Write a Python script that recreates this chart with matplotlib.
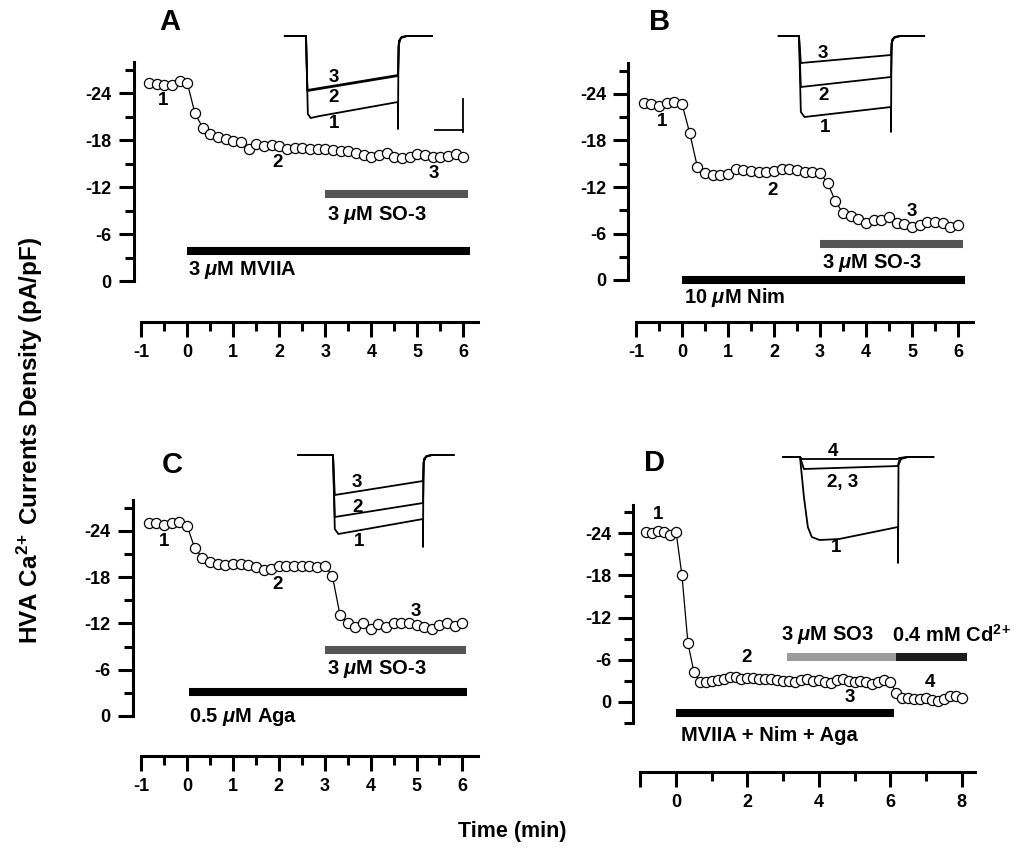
import numpy as np
import matplotlib
matplotlib.use("Agg")
import matplotlib.pyplot as plt

plt.rcParams['font.family'] = ['Liberation Sans', 'DejaVu Sans']
plt.rcParams['font.weight'] = 'bold'
plt.rcParams['axes.unicode_minus'] = False
plt.rcParams['mathtext.fontset'] = 'custom'
plt.rcParams['mathtext.rm'] = 'Liberation Sans:bold'
plt.rcParams['mathtext.it'] = 'Liberation Sans:italic:bold'
plt.rcParams['mathtext.bf'] = 'Liberation Sans:bold'

W, H = 1024, 864

# sample times (min), one sweep every 10 s
t_ab = np.arange(-5, 37) / 6
t_d = np.arange(-5, 49) / 6

# current density (pA/pF)
cur_a = [-25.3, -25.2, -25.0, -25.0, -25.6, -25.3,
         -21.4, -19.6, -18.8, -18.4, -18.1, -17.9, -17.7, -16.9, -17.5, -17.3,
         -17.4, -17.2, -16.9, -17.0, -17.0, -16.9, -16.9, -16.8, -16.7, -16.6,
         -16.6, -16.3, -16.1, -15.9, -16.1, -16.3, -15.9, -15.7, -15.8, -16.2,
         -16.1, -15.8, -15.9, -16.0, -16.2, -15.8]
cur_b = [-22.8, -22.7, -22.5, -22.9, -23.0, -22.7,
         -19.0, -14.6, -13.8, -13.5, -13.6, -13.7, -14.3, -14.2, -14.1, -14.0,
         -14.0, -14.1, -14.3, -14.3, -14.2, -14.0, -13.9, -13.8, -12.5, -10.2,
         -8.6, -8.2, -7.9, -7.3, -7.7, -7.8, -8.1, -7.3, -7.2, -6.9,
         -7.1, -7.5, -7.5, -7.3, -6.8, -7.1]
cur_c = [-25.0, -25.0, -24.8, -25.0, -25.1, -24.7,
         -21.8, -20.5, -20.0, -19.7, -19.6, -19.7, -19.7, -19.6, -19.3, -19.0,
         -19.1, -19.4, -19.4, -19.5, -19.5, -19.4, -19.3, -19.5, -18.2, -13.1,
         -12.1, -11.6, -12.0, -11.3, -11.9, -11.6, -12.1, -12.1, -12.1, -11.8,
         -11.5, -11.3, -11.8, -12.1, -11.7, -12.0]
cur_d = [-24.2, -24.0, -24.3, -24.1, -23.7, -24.2,
         -18.0, -8.4, -4.3, -2.9, -2.8, -3.0, -3.1, -3.3, -3.5, -3.6,
         -3.3, -3.4, -3.4, -3.3, -3.3, -3.2, -3.1, -3.0, -3.0, -2.9,
         -3.1, -3.2, -3.0, -3.1, -2.8, -2.7, -3.1, -3.3, -3.0, -2.8,
         -3.0, -2.9, -2.6, -2.9, -3.1, -2.8, -1.3, -0.6, -0.5, -0.4,
         -0.4, -0.5, -0.3, -0.1, -0.4, -0.9, -0.8, -0.6]

# drug application bars: (start, end, level, colour)
bars_a = [(3.0, 6.1, -11.1, '#555555'), (0.0, 6.15, -3.8, 'black')]
bars_b = [(3.0, 6.1, -4.6, '#555555'), (0.0, 6.15, 0.0, 'black')]
bars_c = [(3.0, 6.07, -8.6, '#555555'), (0.05, 6.1, -3.1, 'black')]
bars_d = [(3.1, 6.15, -6.4, '#9c9c9c'), (6.15, 8.15, -6.4, '#1c1c1c'),
          (0.0, 6.1, 1.6, 'black')]

# inset current traces: (ms, arbitrary units), one list per sweep
tr_a = {
    '1': ([-23, 0, 2, 5, 15, 100, 100, 100.5, 103, 110, 137],
          [0, 0, -78, -82, -80, -66, -93, -10, -2, 0, 0]),
    '2': ([-23, 0, 1.5, 100, 101, 104, 110, 137],
          [0, 0, -55, -40, -5, -1, 0, 0]),
    '3': ([-23, 0, 1.5, 100, 101, 104, 110, 137],
          [0, 0, -54, -39, -5, -1, 0, 0]),
}
tr_b = {
    '1': ([-22, 0, 2, 6, 100, 100, 100.5, 103, 110, 136],
          [0, 0, -76, -81, -71, -96, -8, -2, 0, 0]),
    '2': ([-22, 0, 2, 100, 101, 104, 110, 136],
          [0, 0, -51, -41, -5, -1, 0, 0]),
    '3': ([-22, 0, 2, 100, 101, 104, 110, 136],
          [0, 0, -27, -19, -4, -1, 0, 0]),
}
tr_c = {
    '1': ([-39, 0, 2, 6, 100, 100, 100.5, 103, 110, 134],
          [0, 0, -74, -79, -64, -92, -8, -2, 0, 0]),
    '2': ([-39, 0, 2, 100, 101, 104, 110, 134],
          [0, 0, -62, -48, -5, -1, 0, 0]),
    '3': ([-39, 0, 2, 100, 101, 104, 110, 134],
          [0, 0, -40, -26, -4, -1, 0, 0]),
}
tr_d = {
    '1': ([-17, 0, 4, 8, 12, 20, 40, 100, 100, 100.5, 103, 110, 136],
          [0, 0, -40, -70, -80, -83, -82, -70, -106, -8, -2, 0, 0]),
    '2, 3': ([-17, 0, 4, 100, 101, 104, 110, 136],
             [0, 0, -12, -9, -4, -1, 0, 0]),
    '4': ([-17, 0, 2, 100, 101, 110, 136],
          [0, 0, -2, -2, -1, 0, 0]),
}

fig = plt.figure(figsize=(W / 100, H / 100), dpi=100)


def px_axes(left, right, top, bottom):
    return fig.add_axes([left / W, 1 - bottom / H, (right - left) / W, (bottom - top) / H])


def make_panel(x0, sx, y0, sy, tlim, vlim, ybounds, xbounds, xticks, xminor, yminor):
    ax = px_axes(x0 + sx * tlim[0], x0 + sx * tlim[1], y0 + sy * vlim[0], y0 + sy * vlim[1])
    ax.set_xlim(tlim)
    ax.set_ylim(vlim[1], vlim[0])
    ax.patch.set_visible(False)
    for s in ['top', 'right']:
        ax.spines[s].set_visible(False)
    for s in ['left', 'bottom']:
        ax.spines[s].set_linewidth(2.2)
    ax.spines['left'].set_bounds(*ybounds)
    ax.spines['bottom'].set_bounds(*xbounds)
    ax.set_yticks([-24, -18, -12, -6, 0])
    ax.set_yticks(yminor, minor=True)
    ax.set_xticks(xticks)
    ax.set_xticks(xminor, minor=True)
    ax.tick_params(which='major', length=11, width=2.2, labelsize=13, pad=5)
    ax.tick_params(which='minor', length=6.5, width=2.2)
    for lab in ax.get_xticklabels() + ax.get_yticklabels():
        lab.set_fontweight('bold')
    return ax


def draw_series(ax, t, cur, bars):
    for t0, t1, lev, col in bars:
        ax.plot([t0, t1], [lev, lev], color=col, lw=5.8, solid_capstyle='butt', clip_on=False)
    ax.plot(t, cur, color='black', lw=0.9, marker='o', ms=7.3, mfc='white',
            mec='black', mew=0.9, clip_on=False, zorder=3)


def make_inset(onset_px, base_py, px_ms, traces, labels, scalebar=False):
    tl, il = (-50, 200), (-120, 10)
    ax = px_axes(onset_px + px_ms * tl[0], onset_px + px_ms * tl[1],
                 base_py - il[1], base_py - il[0])
    ax.set_xlim(tl)
    ax.set_ylim(il)
    ax.axis('off')
    for name, (tt, ii) in traces.items():
        ax.plot(tt, ii, color='black', lw=1.3)
    for txt, (tx, iy) in labels.items():
        ax.text(tx, iy, txt, fontsize=13.5, fontweight='bold', ha='center', va='center')
    if scalebar:
        ax.plot([171, 171], [-63, -96], color='black', lw=1.3)
        ax.plot([140, 171], [-94, -94], color='black', lw=1.3)
    return ax


ymin6 = [-27, -21, -15, -9, -3]
xt6 = [-1, 0, 1, 2, 3, 4, 5, 6]
xm6 = [-0.5, 0.5, 1.5, 2.5, 3.5, 4.5, 5.5]
TS = 14.5  # bar labels
PS = 13.5  # point labels

# Panel A
axA = make_panel(187.3, 46, 281, 7.83, (-1.16, 6.5), (-30, 5.24), (-28, 0), (-1, 6.33),
                 xt6, xm6, ymin6)
draw_series(axA, t_ab, cur_a, bars_a)
axA.text(3.04, -8.4, r'3 $\mu$M SO-3', fontsize=TS, va='center')
axA.text(0.02, -1.4, r'3 $\mu$M MVIIA', fontsize=TS, va='center')
for txt, (x, y) in {'1': (-0.52, -23.1), '2': (1.96, -15.1), '3': (5.35, -13.7)}.items():
    axA.text(x, y, txt, fontsize=PS, ha='center', va='center')
make_inset(306, 36, 0.92, tr_a, {'3': (30, -41), '2': (30, -62), '1': (30, -87)}, scalebar=True)

# Panel B
axB = make_panel(682, 46, 280, 7.75, (-1.17, 6.5), (-30, 5.4), (-28, 0), (-1, 6.33),
                 xt6, xm6, ymin6)
draw_series(axB, t_ab, cur_b, bars_b)
axB.text(3.05, -2.2, r'3 $\mu$M SO-3', fontsize=TS, va='center')
axB.text(0.05, 2.2, r'10 $\mu$M Nim', fontsize=TS, va='center')
for txt, (x, y) in {'1': (-0.43, -20.4), '2': (1.97, -11.6), '3': (5.0, -8.8)}.items():
    axB.text(x, y, txt, fontsize=PS, ha='center', va='center')
make_inset(799, 36, 0.92, tr_b, {'3': (26, -17), '2': (27, -60), '1': (28, -91)})

# Panel C
axC = make_panel(187, 45.9, 716, 7.71, (-1.18, 6.5), (-30, 5.19), (-28, 0), (-1, 6.33),
                 xt6, xm6, ymin6)
draw_series(axC, t_ab, cur_c, bars_c)
axC.text(3.05, -6.1, r'3 $\mu$M SO-3', fontsize=TS, va='center')
axC.text(0.05, 0.1, r'0.5 $\mu$M Aga', fontsize=TS, va='center')
for txt, (x, y) in {'1': (-0.5, -22.6), '2': (1.98, -17.0), '3': (4.99, -13.5)}.items():
    axC.text(x, y, txt, fontsize=PS, ha='center', va='center')
make_inset(333, 455, 0.9, tr_c, {'3': (27, -27), '2': (27, -52), '1': (29, -87)})

# Panel D
axD = make_panel(676, 35.7, 702, 7.04, (-1.2, 8.6), (-30, 9.94), (-28, 3), (-1, 8.37),
                 [-1, 0, 2, 4, 6, 8], [1, 3, 5, 7], [-27, -21, -15, -9, -3, 3])
axD.set_xticklabels(['', '0', '2', '4', '6', '8'])
draw_series(axD, t_d, cur_d, bars_d)
axD.text(2.95, -9.5, r'3 $\mu$M SO3', fontsize=TS, va='center')
axD.text(6.05, -9.5, r'0.4 mM Cd$^{2\!+}$', fontsize=TS, va='center')
axD.text(0.15, 4.7, 'MVIIA + Nim + Aga', fontsize=TS, va='center')
for txt, (x, y) in {'1': (-0.5, -26.6), '2': (1.99, -6.25), '3': (4.87, -0.7),
                    '4': (7.1, -2.8)}.items():
    axD.text(x, y, txt, fontsize=PS, ha='center', va='center')
make_inset(800, 457, 0.98, tr_d, {'4': (34, 5), '2, 3': (43, -25), '1': (37, -90)})

# panel letters and shared labels
for letter, (x, y) in {'A': (170, 22), 'B': (660, 22), 'C': (172, 465), 'D': (655, 463)}.items():
    fig.text(x / W, 1 - y / H, letter, fontsize=21, fontweight='bold', ha='center', va='center')
fig.text(30 / W, 1 - 440 / H, r'HVA Ca$^{2\!+}$ Currents Density (pA/pF)', rotation=90,
         fontsize=17.5, fontweight='bold', ha='center', va='center')
fig.text(512 / W, 1 - 832 / H, 'Time (min)', fontsize=15.5, fontweight='bold',
         ha='center', va='center')

fig.savefig('out.png', dpi=100, facecolor='white')
